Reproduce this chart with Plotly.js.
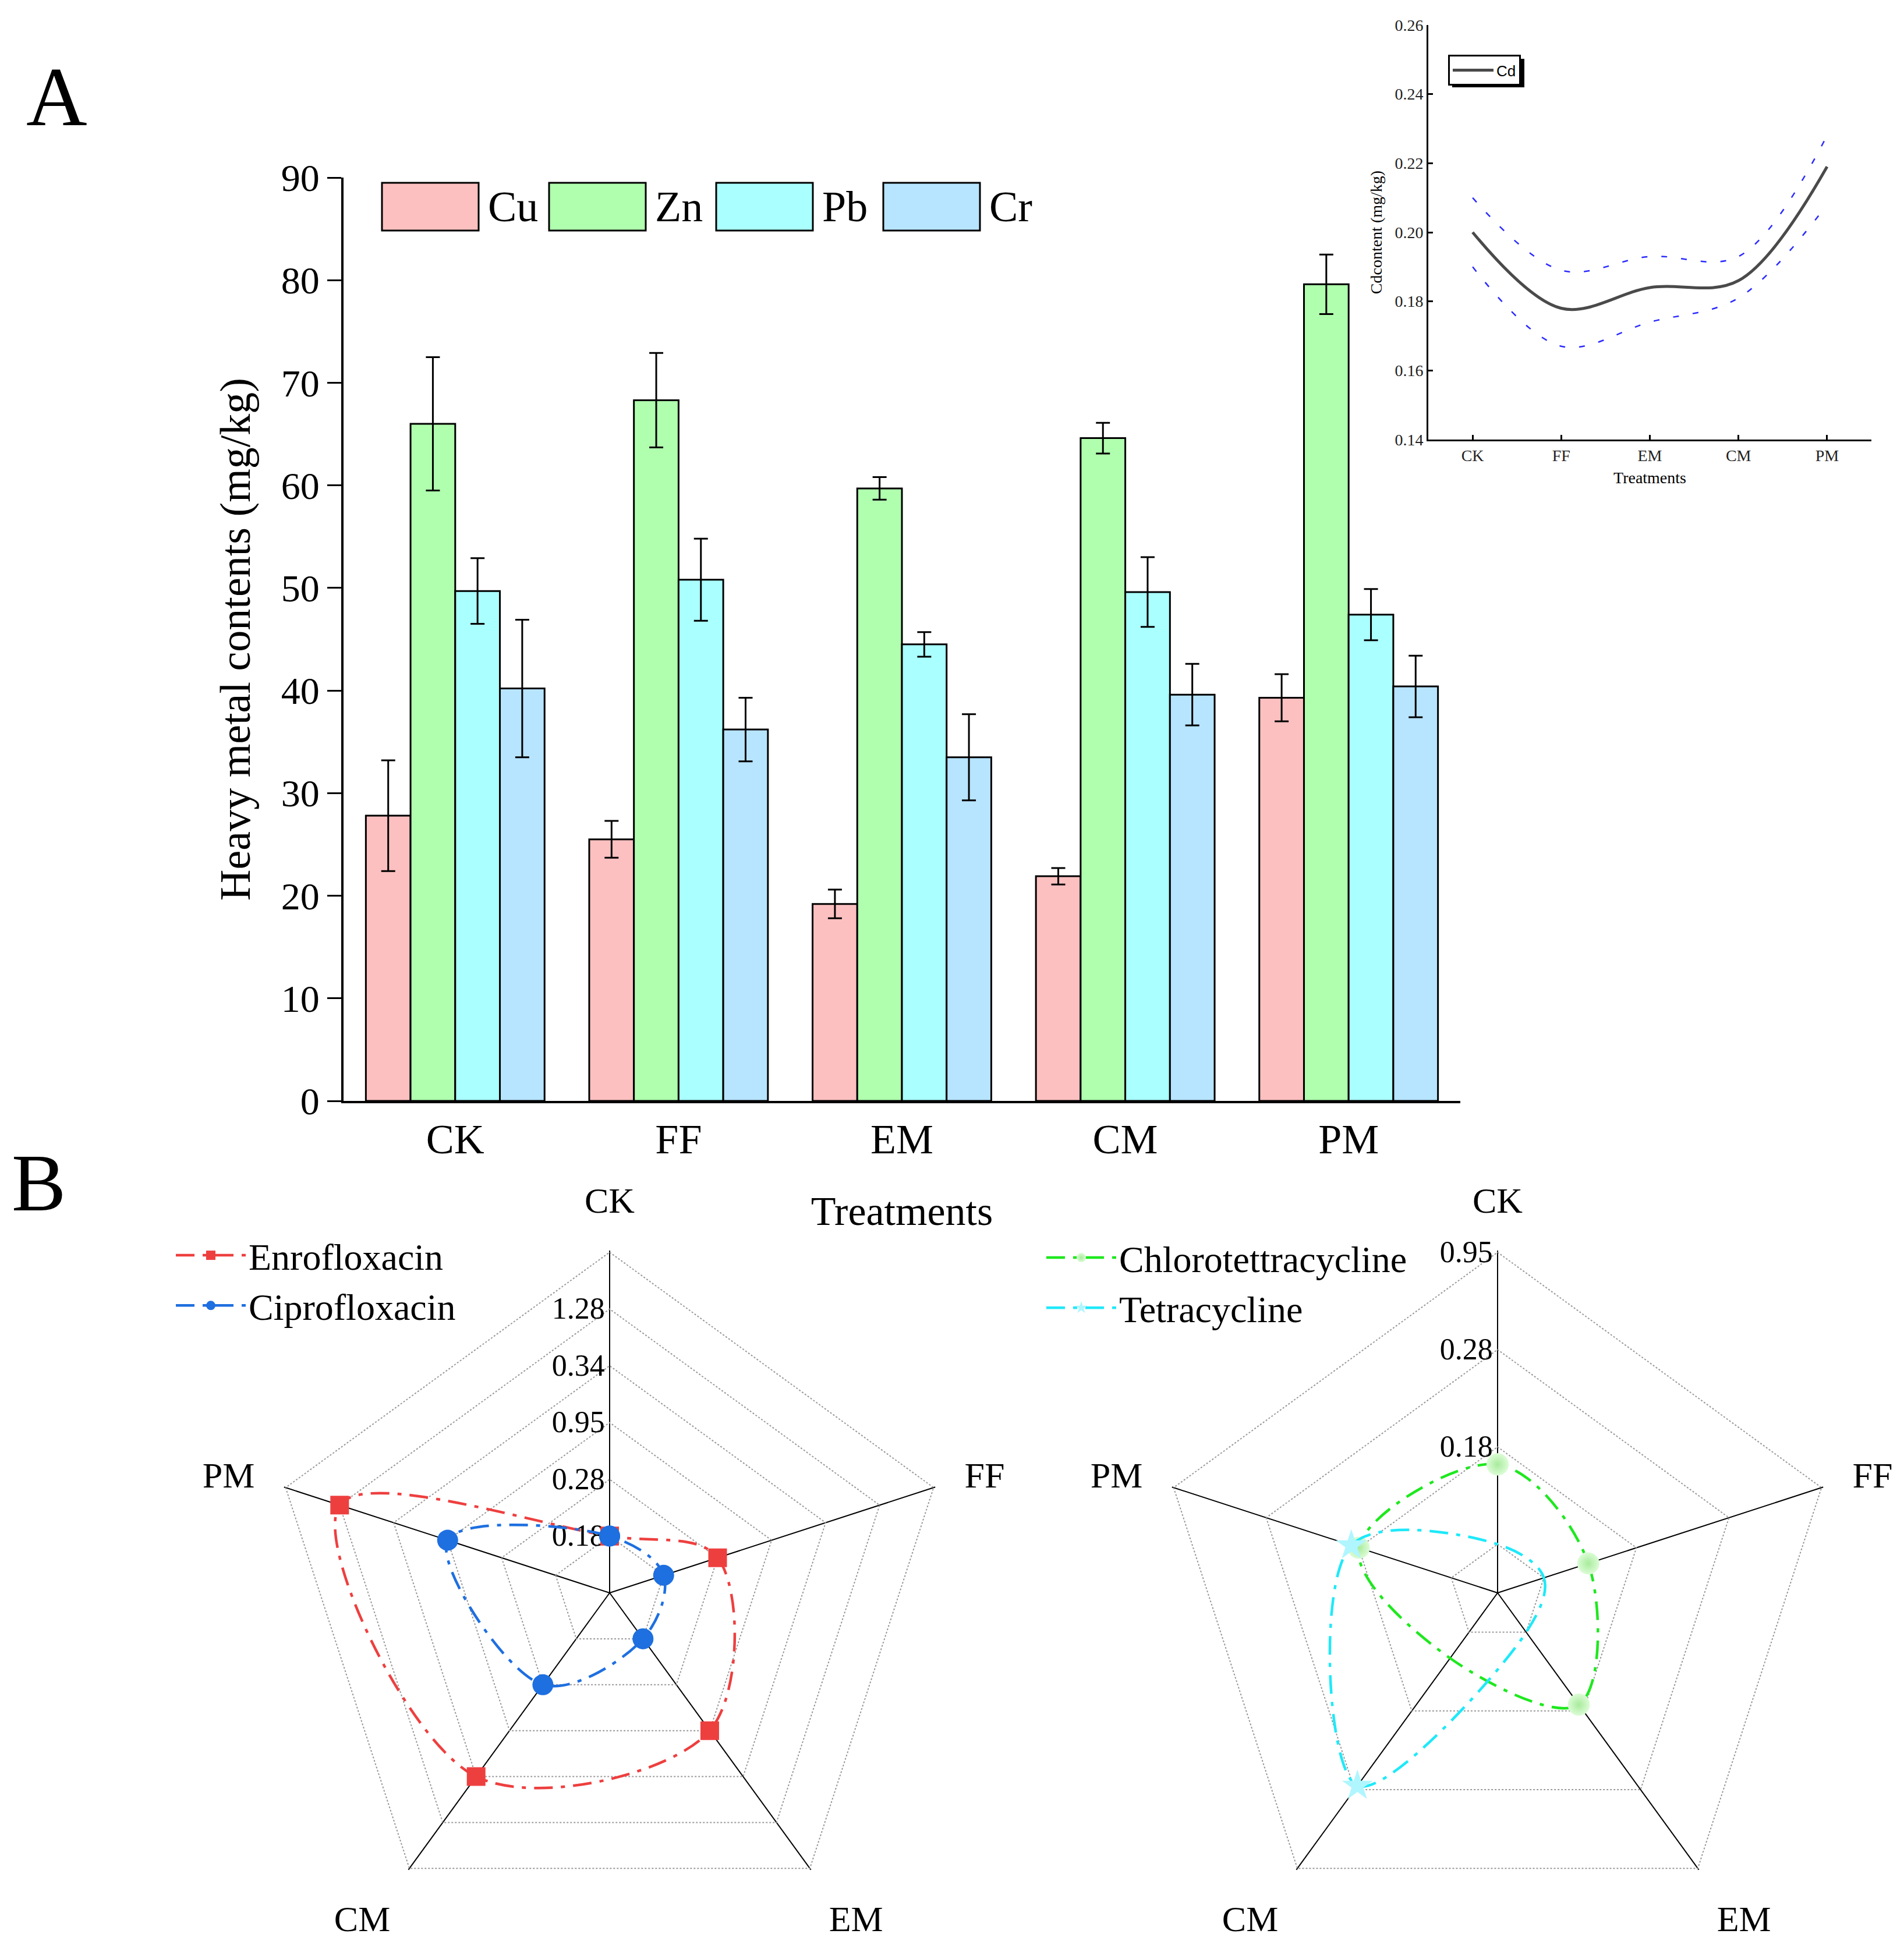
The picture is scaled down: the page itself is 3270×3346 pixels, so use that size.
<!DOCTYPE html>
<html>
<head>
<meta charset="utf-8">
<script src="https://cdn.plot.ly/plotly-3.0.1.min.js"></script>
<style>
  html, body { margin: 0; padding: 0; background: #fff; }
  #fig { width: 3270px; height: 3346px; }
</style>
</head>
<body>
<div id="fig"></div>
<script>
var W = 3270, H = 3346;

// ---- data ----
var treatments = ['CK', 'FF', 'EM', 'CM', 'PM'];

// panel A: heavy metals (mg/kg), mean and error
var metals = ['Cu', 'Zn', 'Pb', 'Cr'];
var metalColors = ['#fcc0c0', '#b0ffae', '#aaffff', '#b7e4ff'];
var cu = [27.8, 25.5, 19.2, 21.9, 39.3];
var zn = [66.0, 68.3, 59.7, 64.6, 79.6];
var pb = [49.7, 50.8, 44.5, 49.6, 47.4];
var cr = [40.2, 36.2, 33.5, 39.6, 40.4];
var cuErr = [5.4, 1.8, 1.4, 0.8, 2.3];
var znErr = [6.5, 4.6, 1.1, 1.5, 2.9];
var pbErr = [3.2, 4.0, 1.2, 3.4, 2.5];
var crErr = [6.7, 3.1, 4.2, 3.0, 3.0];

// inset: Cd content with band
var cd = [0.200, 0.178, 0.184, 0.186, 0.219];
var cdUpper = [0.210, 0.189, 0.193, 0.193, 0.228];
var cdLower = [0.190, 0.167, 0.174, 0.181, 0.208];

// panel B: antibiotics (radar ring positions)
var enro = [1, 2, 3, 4, 5];
var cipro = [1, 1, 1, 2, 3];
var leftRings = [1, 2, 3, 4, 5, 6];
var leftRingText = ['0.18', '0.28', '0.95', '0.34', '1.28', ''];

var chloro = [0.82, 0.48, 0.92, 0.33, 1.0];
var tetra = [0, 0, 0, 1.95, 1.08];
var rightRings = [0, 1, 2, 3];
var rightRingText = ['', '0.18', '0.28', '0.95'];

var serif = 'Liberation Serif, Times New Roman, serif';

// ---- traces ----
var traces = [];
var barVals = [cu, zn, pb, cr];
var barErrs = [cuErr, znErr, pbErr, crErr];
metals.forEach(function (m, i) {
  traces.push({
    type: 'bar', x: treatments, y: barVals[i], name: m,
    xaxis: 'x', yaxis: 'y', showlegend: false,
    marker: { color: metalColors[i], line: { color: '#000', width: 3 } },
    error_y: { type: 'data', array: barErrs[i], color: '#000', thickness: 3, width: 12 }
  });
});

// inset
[cdUpper, cdLower].forEach(function (band) {
  traces.push({
    type: 'scatter', mode: 'lines', x: treatments, y: band,
    xaxis: 'x2', yaxis: 'y2', showlegend: false,
    line: { color: '#2b2bff', width: 2.5, dash: '10px,24px', shape: 'spline', smoothing: 1 }
  });
});
traces.push({
  type: 'scatter', mode: 'lines', x: treatments, y: cd, name: 'Cd',
  xaxis: 'x2', yaxis: 'y2', legend: 'legend2',
  line: { color: '#4a4a4a', width: 5, shape: 'spline', smoothing: 1 }
});

// radars
function closed(a) { return a.concat([a[0]]); }
var dashDot = '32px,14px,7px,14px';
traces.push({
  type: 'scatterpolar', subplot: 'polar', name: 'Enrofloxacin', legend: 'legend3',
  r: closed(enro), theta: closed(treatments), mode: 'lines+markers',
  line: { color: '#ee3f3f', width: 4.5, dash: dashDot, shape: 'spline', smoothing: 1 },
  marker: { symbol: 'square', size: 32, color: '#ee3f3f' }
});
traces.push({
  type: 'scatterpolar', subplot: 'polar', name: 'Ciprofloxacin', legend: 'legend3',
  r: closed(cipro), theta: closed(treatments), mode: 'lines+markers',
  line: { color: '#1e6fe0', width: 4.5, dash: dashDot, shape: 'spline', smoothing: 1 },
  marker: { symbol: 'circle', size: 36, color: '#1e6fe0' }
});
traces.push({
  type: 'scatterpolar', subplot: 'polar2', name: 'Chlorotettracycline', legend: 'legend4',
  r: closed(chloro), theta: closed(treatments), mode: 'lines+markers',
  line: { color: '#1ee81e', width: 4.5, dash: dashDot, shape: 'spline', smoothing: 1 },
  marker: { symbol: 'circle', size: 38, color: '#dcfcd6', gradient: { type: 'radial', color: '#a8eb9c' } }
});
traces.push({
  type: 'scatterpolar', subplot: 'polar2', name: 'Tetracycline', legend: 'legend4',
  r: closed(tetra), theta: closed(treatments), mode: 'lines+markers',
  line: { color: '#1ee9f9', width: 4.5, dash: dashDot, shape: 'spline', smoothing: 1 },
  marker: { symbol: 'star', size: 40, color: '#b0f6ff' }
});

// ---- custom legend for bars (big boxes) ----
var shapes = [], annotations = [];
var boxX0 = 656, boxStep = 287, boxW = 166, boxH = 82, boxTop = 314;
metals.forEach(function (m, i) {
  var x0 = boxX0 + i * boxStep;
  shapes.push({
    type: 'rect', xref: 'paper', yref: 'paper',
    x0: x0 / W, x1: (x0 + boxW) / W, y0: 1 - (boxTop + boxH) / H, y1: 1 - boxTop / H,
    fillcolor: metalColors[i], line: { color: '#000', width: 3 }
  });
  annotations.push({
    xref: 'paper', yref: 'paper', x: (x0 + boxW + 14) / W, y: 1 - (boxTop + boxH / 2) / H,
    xanchor: 'left', yanchor: 'middle', showarrow: false, text: m, font: { family: serif, size: 74 }
  });
});

// shadow behind the inset legend
shapes.push({
  type: 'rect', xref: 'paper', yref: 'paper', layer: 'above',
  x0: 2494 / W, x1: 2618 / W, y0: 1 - 150 / H, y1: 1 - 101 / H,
  fillcolor: '#000', line: { width: 0 }
});

// panel letters
annotations.push({ xref: 'paper', yref: 'paper', x: 97 / W, y: 1 - 166 / H, text: 'A', showarrow: false,
  font: { family: serif, size: 145 }, xanchor: 'center', yanchor: 'middle' });
annotations.push({ xref: 'paper', yref: 'paper', x: 66 / W, y: 1 - 2031 / H, text: 'B', showarrow: false,
  font: { family: serif, size: 140 }, xanchor: 'center', yanchor: 'middle' });

function radar(domX, rings, ringText, rRange) {
  return {
    domain: { x: domX, y: [1 - 3324 / H, 1 - 2148 / H] },
    gridshape: 'linear', bgcolor: '#fff',
    angularaxis: {
      rotation: 90, direction: 'clockwise', showline: false,
      gridcolor: '#000', gridwidth: 2,
      ticks: 'outside', ticklen: 40, tickcolor: 'rgba(0,0,0,0)',
      tickfont: { family: serif, size: 62, color: '#000' }, layer: 'below traces'
    },
    radialaxis: {
      range: rRange, tickmode: 'array', tickvals: rings, ticktext: ringText,
      angle: 90, side: 'counterclockwise', tickangle: 90, showline: false, ticks: '',
      gridcolor: '#999', gridwidth: 2, griddash: 'dot',
      tickfont: { family: serif, size: 52, color: '#000' }, layer: 'below traces'
    }
  };
}

var layout = {
  width: W, height: H,
  margin: { l: 0, r: 0, t: 0, b: 0 },
  paper_bgcolor: '#fff', plot_bgcolor: '#fff',
  font: { family: serif, color: '#000', size: 62 },
  barmode: 'group', bargap: 0.2, bargroupgap: 0,
  showlegend: true,
  xaxis: {
    domain: [590 / W, 2508 / W], anchor: 'y', type: 'category', range: [-0.5, 4.5],
    showline: true, linecolor: '#000', linewidth: 4, showgrid: false, zeroline: false,
    ticks: '', tickfont: { size: 72 },
    title: { text: 'Treatments', font: { size: 70 }, standoff: 60 }
  },
  yaxis: {
    domain: [1 - 1891 / H, 1 - 305 / H], anchor: 'x', range: [0, 90], dtick: 10,
    showline: true, linecolor: '#000', linewidth: 4, showgrid: false, zeroline: false,
    ticks: 'outside', ticklen: 24, tickwidth: 3, tickcolor: '#000',
    tickfont: { size: 66 },
    title: { text: 'Heavy metal contents (mg/kg)', font: { size: 74 }, standoff: 30 }
  },
  xaxis2: {
    domain: [2453 / W, 3214 / W], anchor: 'y2', type: 'category', range: [-0.5, 4.5],
    showline: true, linecolor: '#000', linewidth: 3, showgrid: false, zeroline: false,
    ticks: 'inside', ticklen: 8, tickwidth: 3, tickcolor: '#000',
    tickfont: { size: 28, color: '#222' },
    title: { text: 'Treatments', font: { size: 28 }, standoff: 14 }
  },
  yaxis2: {
    domain: [1 - 755 / H, 1 - 43 / H], anchor: 'x2', range: [0.14, 0.26], dtick: 0.02, tickformat: '.2f',
    showline: true, linecolor: '#000', linewidth: 3, showgrid: false, zeroline: false,
    ticks: 'inside', ticklen: 8, tickwidth: 3, tickcolor: '#000',
    tickfont: { size: 28, color: '#222' },
    title: { text: 'Cdcontent (mg/kg)', font: { size: 28 }, standoff: 14 }
  },
  polar: radar([459 / W, 1635 / W], leftRings, leftRingText, [0, 6.03]),
  polar2: radar([1984 / W, 3160 / W], rightRings, rightRingText, [-0.5, 3.018]),
  legend2: {
    x: 2487 / W, y: 1 - 94 / H, xanchor: 'left', yanchor: 'top',
    bgcolor: '#fff', bordercolor: '#000', borderwidth: 3, itemwidth: 70,
    font: { family: 'Liberation Sans, Arial, sans-serif', size: 26, color: '#000' }
  },
  legend3: {
    x: 297 / W, y: 1 - 2108 / H, xanchor: 'left', yanchor: 'top',
    bgcolor: 'rgba(0,0,0,0)', itemwidth: 120,
    font: { family: serif, size: 64, color: '#000' }
  },
  legend4: {
    x: 1792 / W, y: 1 - 2112 / H, xanchor: 'left', yanchor: 'top',
    bgcolor: 'rgba(0,0,0,0)', itemwidth: 120,
    font: { family: serif, size: 64, color: '#000' }
  },
  shapes: shapes,
  annotations: annotations
};

Plotly.newPlot('fig', traces, layout, { staticPlot: true, displayModeBar: false });
</script>
</body>
</html>
